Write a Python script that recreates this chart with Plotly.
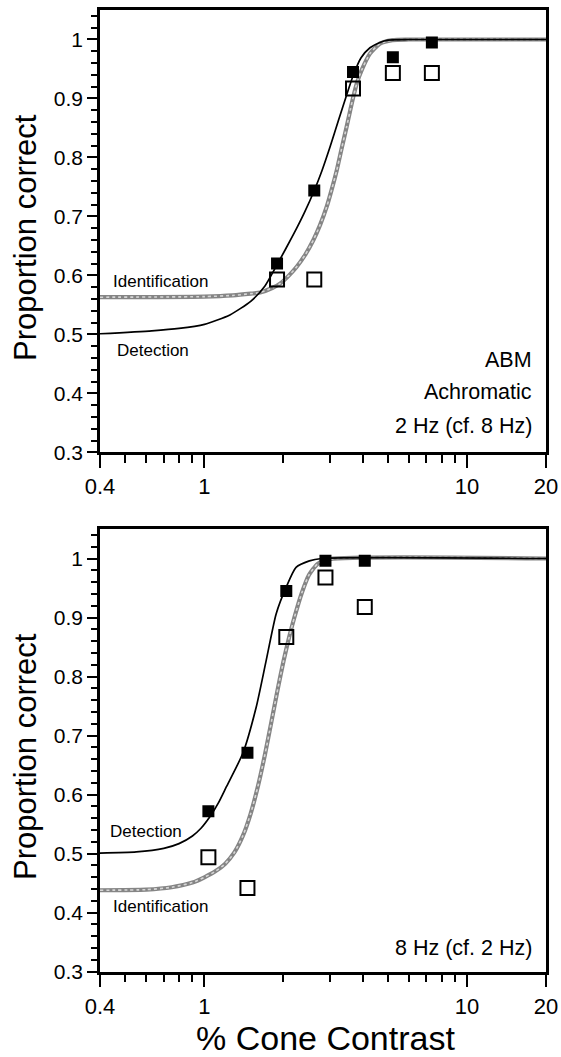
import numpy as np
import plotly.graph_objects as go

FONT = "Liberation Sans, Arial, Helvetica, sans-serif"

# ---------------- data: top panel (2 Hz) ----------------
top_x = [1.89, 2.62, 3.68, 5.22, 7.35]
top_detect = [0.620, 0.744, 0.945, 0.970, 0.995]
top_ident = [0.593, 0.593, 0.917, 0.943, 0.943]

top_det_curve_x = [0.40, 0.63, 0.80, 1.00, 1.25, 1.50, 1.70, 1.89, 2.18, 2.40, 2.62, 2.80,
                   3.01, 3.24, 3.48, 3.70, 3.95, 4.27, 4.66, 5.00, 6.0, 20.0]
top_det_curve_y = [0.501, 0.506, 0.510, 0.517, 0.533, 0.556, 0.582, 0.618, 0.669, 0.706, 0.744, 0.777,
                   0.818, 0.863, 0.906, 0.941, 0.969, 0.986, 0.995, 0.999, 1.000, 1.000]

top_id_curve_x = [0.40, 1.00, 1.28, 1.50, 1.63, 1.82, 1.94, 2.10, 2.25, 2.42, 2.60, 2.76, 2.92,
                  3.05, 3.19, 3.33, 3.48, 3.60, 3.69, 3.82, 3.97, 4.27, 4.66, 5.20, 6.0, 20.0]
top_id_curve_y = [0.563, 0.564, 0.566, 0.569, 0.571, 0.579, 0.586, 0.600, 0.615, 0.635, 0.660, 0.686, 0.716,
                  0.745, 0.778, 0.815, 0.852, 0.882, 0.903, 0.928, 0.948, 0.976, 0.993, 0.999, 1.000, 1.000]

# ---------------- data: bottom panel (8 Hz) ----------------
bot_x = [1.035, 1.458, 2.05, 2.89, 4.08]
bot_detect = [0.572, 0.671, 0.945, 0.996, 0.996]
bot_ident = [0.494, 0.442, 0.867, 0.968, 0.918]

bot_det_curve_x = [0.40, 0.55, 0.70, 0.80, 0.90, 0.97, 1.047, 1.13, 1.211, 1.40, 1.574, 1.718, 1.875,
                   2.046, 2.233, 2.51, 2.80, 20.0]
bot_det_curve_y = [0.501, 0.503, 0.509, 0.517, 0.530, 0.543, 0.562, 0.586, 0.613, 0.670, 0.748, 0.827, 0.906,
                   0.951, 0.985, 0.996, 1.000, 1.000]

bot_id_curve_x = [0.40, 0.60, 0.75, 0.90, 1.00, 1.10, 1.20, 1.30, 1.40, 1.50, 1.60, 1.70, 1.80,
                  1.90, 2.00, 2.10, 2.20, 2.35, 2.50, 2.70, 3.00, 20.0]
bot_id_curve_y = [0.438, 0.439, 0.443, 0.451, 0.460, 0.470, 0.483, 0.502, 0.530, 0.568, 0.615, 0.668, 0.724,
                  0.778, 0.826, 0.866, 0.900, 0.942, 0.972, 0.991, 0.999, 1.000]

x_tickvals = [0.4, 1, 10, 20]
x_ticktext = ["0.4", "1", "10", "20"]
x_minor = [0.5, 0.6, 0.7, 0.8, 0.9, 2, 3, 4, 5, 6, 7, 8, 9]
y_tickvals = [0.3, 0.4, 0.5, 0.6, 0.7, 0.8, 0.9, 1.0]
y_ticktext = ["0.3", "0.4", "0.5", "0.6", "0.7", "0.8", "0.9", "1"]

fig = go.Figure()


def add_panel(xa, ya, det_cx, det_cy, id_cx, id_cy, px, pdet, pid):
    # identification curve (gray textured band)
    fig.add_trace(go.Scatter(x=id_cx, y=id_cy, mode="lines", xaxis=xa, yaxis=ya,
                             line=dict(color="#858585", width=4.2, shape="spline", smoothing=0.6),
                             showlegend=False, hoverinfo="skip"))
    fig.add_trace(go.Scatter(x=id_cx, y=id_cy, mode="lines", xaxis=xa, yaxis=ya,
                             line=dict(color="#d6d6d6", width=1.6, shape="spline", smoothing=0.6, dash="dot"),
                             showlegend=False, hoverinfo="skip"))
    # detection curve (solid black)
    fig.add_trace(go.Scatter(x=det_cx, y=det_cy, mode="lines", xaxis=xa, yaxis=ya,
                             line=dict(color="black", width=1.7, shape="spline", smoothing=0.6),
                             showlegend=False, hoverinfo="skip"))
    # detection data (filled squares)
    fig.add_trace(go.Scatter(x=px, y=pdet, mode="markers", xaxis=xa, yaxis=ya,
                             marker=dict(symbol="square", size=12, color="black"),
                             showlegend=False))
    # identification data (open squares)
    fig.add_trace(go.Scatter(x=px, y=pid, mode="markers", xaxis=xa, yaxis=ya,
                             marker=dict(symbol="square-open", size=14, color="black",
                                         line=dict(width=2, color="black")),
                             showlegend=False))


add_panel("x", "y", top_det_curve_x, top_det_curve_y, top_id_curve_x, top_id_curve_y,
          top_x, top_detect, top_ident)
add_panel("x2", "y2", bot_det_curve_x, bot_det_curve_y, bot_id_curve_x, bot_id_curve_y,
          bot_x, bot_detect, bot_ident)

W, H = 561, 1057
xdom = [100 / W, 546 / W]
top_dom = [(H - 452.3) / H, (H - 10) / H]
bot_dom = [(H - 971.7) / H, (H - 529) / H]


def xaxis_cfg():
    return dict(type="log", range=[np.log10(0.4), np.log10(20)], domain=xdom,
                automargin=False,
                tickmode="array", tickvals=x_tickvals, ticktext=x_ticktext,
                ticks="outside", ticklen=13, tickwidth=2, tickcolor="black",
                minor=dict(tickmode="array", tickvals=x_minor, ticks="outside", ticklen=8,
                           tickwidth=1.5, tickcolor="black", showgrid=False),
                showline=True, linewidth=2.5, linecolor="black", mirror=True,
                showgrid=False, zeroline=False,
                tickfont=dict(family=FONT, size=22, color="black"))


def yaxis_cfg(dom):
    return dict(range=[0.3, 1.05], domain=dom,
                automargin=False,
                tickmode="array", tickvals=y_tickvals, ticktext=y_ticktext,
                ticks="outside", ticklen=10, tickwidth=2, tickcolor="black",
                minor=dict(dtick=0.02, tick0=0.3, ticks="outside", ticklen=6,
                           tickwidth=1.5, tickcolor="black", showgrid=False),
                showline=True, linewidth=2.5, linecolor="black", mirror=True,
                showgrid=False, zeroline=False,
                tickfont=dict(family=FONT, size=21, color="black"))


xa1 = xaxis_cfg()
xa1["anchor"] = "y"
xa2 = xaxis_cfg()
xa2["anchor"] = "y2"
ya1 = yaxis_cfg(top_dom)
ya1["anchor"] = "x"
ya2 = yaxis_cfg(bot_dom)
ya2["anchor"] = "x2"

ann = []


def txt(text, x, y, xref, yref, size, xanchor="left", yanchor="middle", angle=0):
    ann.append(dict(text=text, x=x, y=y, xref=xref, yref=yref, showarrow=False,
                    xanchor=xanchor, yanchor=yanchor, textangle=angle, borderpad=0,
                    font=dict(family=FONT, size=size, color="black")))


# top panel labels
txt("Identification", np.log10(0.443), 0.590, "x", "y", 17)
txt("Detection", np.log10(0.460), 0.472, "x", "y", 17)
txt("ABM", 533 / W, 0.456, "paper", "y", 21.5, xanchor="right")
txt("Achromatic", 533 / W, 0.402, "paper", "y", 21.5, xanchor="right")
txt("2 Hz (cf. 8 Hz)", 533 / W, 0.344, "paper", "y", 21.5, xanchor="right")
# bottom panel labels
txt("Detection", np.log10(0.434), 0.537, "x2", "y2", 17)
txt("Identification", np.log10(0.446), 0.410, "x2", "y2", 17)
txt("8 Hz (cf. 2 Hz)", 533 / W, 0.341, "paper", "y2", 21.5, xanchor="right")
# axis titles
txt("Proportion correct", 25 / W, (H - 238) / H, "paper", "paper", 31, xanchor="center", angle=-90)
txt("Proportion correct", 25 / W, (H - 757) / H, "paper", "paper", 31, xanchor="center", angle=-90)
txt("% Cone Contrast", 325 / W, (H - 1038) / H, "paper", "paper", 34, xanchor="center")

fig.update_layout(width=W, height=H, margin=dict(l=0, r=0, t=0, b=0, autoexpand=False),
                  paper_bgcolor="white", plot_bgcolor="white",
                  xaxis=xa1, yaxis=ya1, xaxis2=xa2, yaxis2=ya2,
                  annotations=ann, showlegend=False)

fig.write_html("out.html")
